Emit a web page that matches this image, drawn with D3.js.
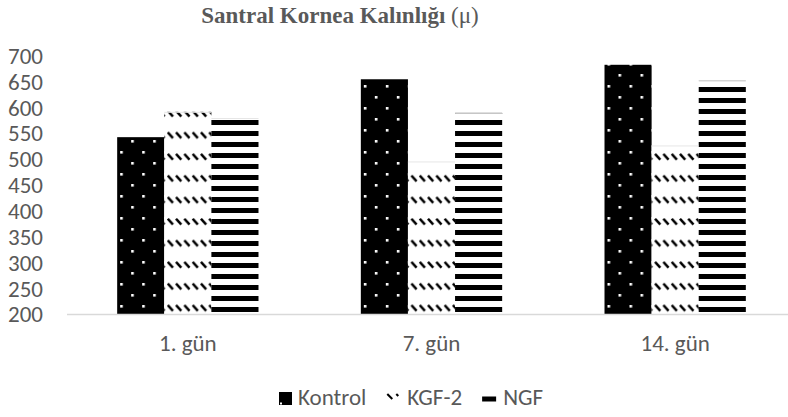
<!DOCTYPE html>
<html>
<head>
<meta charset="utf-8">
<script src="https://cdn.jsdelivr.net/npm/d3@7"></script>
<style>
  html, body { margin: 0; padding: 0; background: #fff; }
  svg { display: block; }
</style>
</head>
<body>
<svg id="chart" width="788" height="417"></svg>
<script>
// ---- data ----
const categories = ["1. gün", "7. gün", "14. gün"];
const seriesNames = ["Kontrol", "KGF-2", "NGF"];
const kontrolValues = [543, 655, 683];
const kgf2Values = [592, 496, 527];
const ngfValues = [580, 590, 652];
const yTicks = [200, 250, 300, 350, 400, 450, 500, 550, 600, 650, 700];
const titleBold = "Santral Kornea Kalınlığı";
const titleUnit = "(μ)";

const seriesValues = [kontrolValues, kgf2Values, ngfValues];
const patternIds = ["pat-kontrol", "pat-kgf", "pat-ngf"];

const svg = d3.select("#chart");
const W = 788, H = 417;
const textColor = "#595959";
const labelFont = "Calibri, Carlito, 'Open Sans', sans-serif";
const labelSize = "23px";

// ---- patterns ----
const defs = svg.append("defs");
// Kontrol: black with white dots
const p1 = defs.append("pattern").attr("id", "pat-kontrol")
  .attr("patternUnits", "userSpaceOnUse")
  .attr("x", 3).attr("y", -3).attr("width", 22).attr("height", 22);
p1.append("rect").attr("width", 22).attr("height", 22).attr("fill", "#000");
p1.append("rect").attr("x", 0).attr("y", 0).attr("width", 2.6).attr("height", 2.6).attr("fill", "#fff");
p1.append("rect").attr("x", 11).attr("y", 11).attr("width", 2.6).attr("height", 2.6).attr("fill", "#fff");

// KGF-2: dashed downward diagonal
const p2 = defs.append("pattern").attr("id", "pat-kgf")
  .attr("patternUnits", "userSpaceOnUse")
  .attr("x", 0).attr("y", 2).attr("width", 8.3).attr("height", 21.6);
p2.append("rect").attr("width", 8.3).attr("height", 21.6).attr("fill", "#fff");
p2.append("line").attr("x1", 0.8).attr("y1", 0.8).attr("x2", 6).attr("y2", 6.4)
  .attr("stroke", "#000").attr("stroke-width", 2.5);

// NGF: wide horizontal stripes
const p3 = defs.append("pattern").attr("id", "pat-ngf")
  .attr("patternUnits", "userSpaceOnUse")
  .attr("x", 0).attr("y", 87).attr("width", 11).attr("height", 11);
p3.append("rect").attr("width", 11).attr("height", 11).attr("fill", "#fff");
p3.append("rect").attr("x", 0).attr("y", 0).attr("width", 11).attr("height", 5).attr("fill", "#000");

// ---- scales ----
const x0 = d3.scaleBand().domain(categories).range([66, 797])
  .paddingInner(0.42).paddingOuter(0.21);
const x1 = d3.scaleBand().domain(seriesNames).range([0, x0.bandwidth()]);
const y = d3.scaleLinear().domain([200, 700]).range([314.5, 56]);

// ---- title ----
const title = svg.append("text")
  .attr("x", 340).attr("y", 23)
  .attr("text-anchor", "middle")
  .attr("fill", textColor)
  .style("font-family", "'Liberation Serif', 'Times New Roman', serif")
  .style("font-size", "23px");
title.append("tspan").attr("font-weight", "bold").text(titleBold);
title.append("tspan").text(" " + titleUnit);

// ---- bars ----
const groups = svg.append("g").selectAll("g")
  .data(categories)
  .join("g")
  .attr("transform", d => `translate(${x0(d)},0)`);

const barData = (c, ci) => seriesNames.map((s, si) => ({ s, si, v: seriesValues[si][ci] }));

groups.selectAll("rect")
  .data(barData)
  .join("rect")
  .attr("x", d => x1(d.s))
  .attr("width", x1.bandwidth())
  .attr("y", d => y(d.v))
  .attr("height", d => y(200) - y(d.v))
  .attr("fill", d => `url(#${patternIds[d.si]})`);

// faint top edges on pattern bars
groups.selectAll("line.top")
  .data((c, ci) => barData(c, ci).filter(d => d.si > 0))
  .join("line")
  .attr("class", "top")
  .attr("x1", d => x1(d.s))
  .attr("x2", d => x1(d.s) + x1.bandwidth())
  .attr("y1", d => y(d.v) + 0.5)
  .attr("y2", d => y(d.v) + 0.5)
  .attr("stroke", "#e6e6e6")
  .attr("stroke-width", 1);

// ---- y axis labels ----
const yAxis = d3.axisLeft(y).tickValues(yTicks).tickSize(0).tickPadding(0);
const yg = svg.append("g").attr("transform", "translate(43,0)").call(yAxis);
yg.select(".domain").remove();
yg.selectAll("text")
  .attr("fill", textColor)
  .style("font-family", labelFont)
  .style("font-size", labelSize);

// ---- x axis ----
const xAxis = d3.axisBottom(x0).tickSize(0).tickPadding(0);
const xg = svg.append("g").attr("transform", `translate(0,${y(200)})`).call(xAxis);
xg.select(".domain").remove();
xg.selectAll("text")
  .attr("dy", null)
  .attr("y", 36)
  .attr("fill", textColor)
  .style("font-family", labelFont)
  .style("font-size", labelSize);
svg.append("line")
  .attr("x1", 67).attr("x2", W)
  .attr("y1", y(200)).attr("y2", y(200))
  .attr("stroke", "#d9d9d9").attr("stroke-width", 1.5);

// ---- legend ----
const legend = svg.append("g").attr("transform", "translate(279,405)");
let lx = 0;
seriesNames.forEach((name, i) => {
  const g = legend.append("g").attr("transform", `translate(${lx},0)`);
  if (i === 0) {
    g.append("rect").attr("x", 0).attr("y", -13).attr("width", 13).attr("height", 13).attr("fill", "#000");
    g.append("rect").attr("x", 1).attr("y", -2.5).attr("width", 2).attr("height", 2).attr("fill", "#fff");
  } else if (i === 1) {
    g.append("line").attr("x1", 1).attr("y1", -11).attr("x2", 6).attr("y2", -6)
      .attr("stroke", "#000").attr("stroke-width", 2);
    g.append("line").attr("x1", 10).attr("y1", -11).attr("x2", 12).attr("y2", -9)
      .attr("stroke", "#000").attr("stroke-width", 2);
  } else {
    g.append("rect").attr("x", 0).attr("y", -8.5).attr("width", 14).attr("height", 5).attr("fill", "#000");
  }
  const off = i === 0 ? 19 : 21;
  const t = g.append("text")
    .attr("x", off).attr("y", 0)
    .attr("fill", textColor)
    .style("font-family", labelFont)
    .style("font-size", labelSize)
    .text(name);
  lx += off + t.node().getComputedTextLength() + 20;
});
</script>
</body>
</html>
